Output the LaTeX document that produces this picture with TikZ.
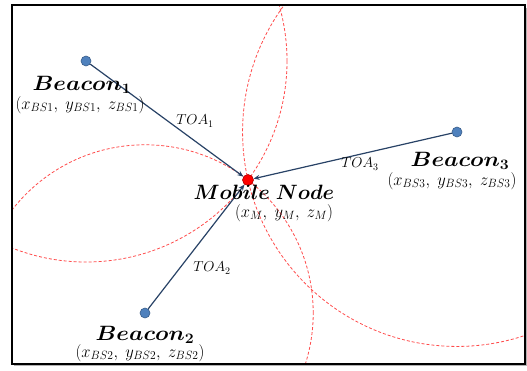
\documentclass[tikz,border=0pt]{standalone}
\usepackage{graphicx}
\usetikzlibrary{calc,arrows.meta,backgrounds}
\definecolor{linkc}{RGB}{40,66,102}
\definecolor{beaconfill}{RGB}{79,129,189}
\definecolor{beacondraw}{RGB}{56,93,138}
\definecolor{rangec}{RGB}{255,75,75}
\tikzset{
  beacondot/.style={circle,fill=beaconfill,draw=beacondraw,line width=0.6pt,minimum size=10pt,inner sep=0pt},
  mobiledot/.style={circle,fill=red,draw=red!70!black,line width=0.6pt,minimum size=11pt,inner sep=0pt},
  link/.style={draw=linkc,line width=1.2pt,-{Stealth[length=6pt,width=5pt]}},
  rangecircle/.style={draw=rangec,dash pattern=on 3pt off 2pt,line width=0.8pt},
  bigname/.style={font=\fontsize{20}{24}\selectfont\boldmath,inner sep=0pt},
  coordtext/.style={font=\fontsize{17}{20}\selectfont,inner sep=0pt},
  toatext/.style={font=\fontsize{14}{16}\selectfont,inner sep=0pt},
  frameline/.style={draw=black,line width=1.6pt}
}
\begin{document}
\begin{tikzpicture}[x=1pt,y=-1pt]
\useasboundingbox (0,0) rectangle (527,370);
\coordinate (fa) at (12,5);
\coordinate (fb) at (525,364);
% nodes
\node[mobiledot] (mn) at (248,180) {};
\node[beacondot] (b1) at (86,61) {};
\node[beacondot] (b2) at (145,313) {};
\node[beacondot] (b3) at (457,132) {};
% range circles
\begin{scope}[on background layer]
  \clip (fa) rectangle (fb);
  \foreach \b in {b1,b2,b3}{
    \draw[rangecircle] let \p1=($(mn.center)-(\b.center)$), \n1={veclen(\x1,\y1)} in (\b.center) circle (\n1);
  }
\end{scope}
% shadow and frame
\draw[gray!60,line width=1.5pt] ($(fa)+(2,360.5)$) -- ($(fb)+(1.5,1.5)$) -- ($(fb)+(1.5,-356)$);
\draw[frameline] (fa) rectangle (fb);
% links
\draw[link] (b1) -- (mn);
\draw[link] (b2) -- (mn);
\draw[link] (b3) -- (mn);
% labels
\node[toatext] (toa1) at (195,121) {$TOA_{1}$};
\node[toatext] (toa2) at (212,268) {$TOA_{2}$};
\node[toatext] (toa3) at (360,164) {$TOA_{3}$};
\node[bigname] (n1) at (82,85) {\scalebox{1.1}[1]{$Beacon_{\mathbf{1}}$}};
\node[coordtext] (c1) at (80,105) {\scalebox{0.96}[1]{$(x_{BS1},\; y_{BS1},\; z_{BS1})$}};
\node[bigname] (n3) at (460,161) {\scalebox{1.1}[1]{$Beacon_{\mathbf{3}}$}};
\node[coordtext] (c3) at (452,181) {\scalebox{0.96}[1]{$(x_{BS3},\; y_{BS3},\; z_{BS3})$}};
\node[bigname] (n2) at (145,335) {\scalebox{1.1}[1]{$Beacon_{\mathbf{2}}$}};
\node[coordtext] (c2) at (140,353) {\scalebox{0.96}[1]{$(x_{BS2},\; y_{BS2},\; z_{BS2})$}};
\node[bigname] (nm) at (264,192) {$Mobile\ Node$};
\node[coordtext] (cm) at (284,213) {\scalebox{0.96}[1]{$(x_{M},\; y_{M},\; z_{M})$}};
\end{tikzpicture}
\end{document}
